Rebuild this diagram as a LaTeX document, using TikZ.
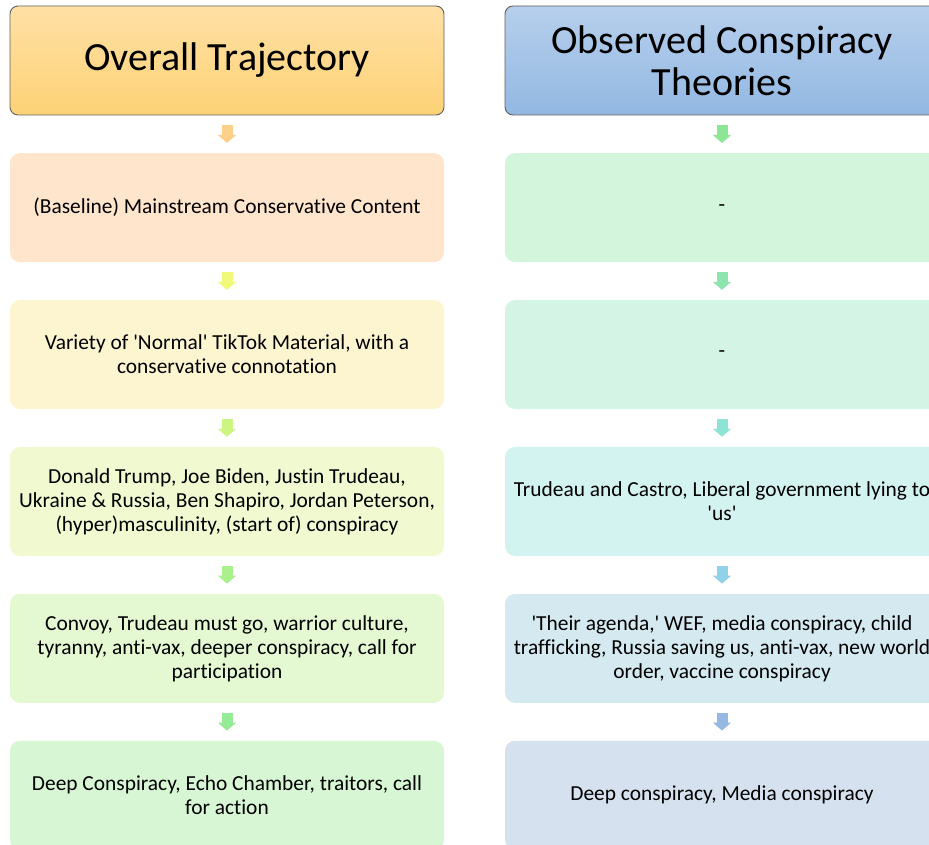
\documentclass[tikz,border=0pt]{standalone}
\usepackage{fontspec}
\setmainfont{Carlito}[Ligatures={NoCommon}]
\usepackage{xcolor}
\usepackage{tikz}
\usetikzlibrary{positioning,arrows.meta}

\definecolor{hdrline}{RGB}{95,95,95}
\definecolor{trajtop}{RGB}{255,224,165}
\definecolor{trajbot}{RGB}{253,210,118}
\definecolor{theotop}{RGB}{183,207,236}
\definecolor{theobot}{RGB}{146,184,226}
% left column fills / arrows
\definecolor{trajA}{RGB}{255,229,204}
\definecolor{trajB}{RGB}{253,245,208}
\definecolor{trajC}{RGB}{241,249,208}
\definecolor{trajD}{RGB}{228,248,210}
\definecolor{trajE}{RGB}{215,246,211}
\definecolor{tarrA}{RGB}{254,208,140}
\definecolor{tarrB}{RGB}{240,250,120}
\definecolor{tarrC}{RGB}{205,245,130}
\definecolor{tarrD}{RGB}{170,240,140}
\definecolor{tarrE}{RGB}{150,235,150}
% right column fills / arrows
\definecolor{theoA}{RGB}{211,245,220}
\definecolor{theoB}{RGB}{212,244,230}
\definecolor{theoC}{RGB}{211,243,240}
\definecolor{theoD}{RGB}{212,234,240}
\definecolor{theoE}{RGB}{213,225,238}
\definecolor{carrA}{RGB}{140,230,150}
\definecolor{carrB}{RGB}{140,228,175}
\definecolor{carrC}{RGB}{140,228,215}
\definecolor{carrD}{RGB}{145,210,232}
\definecolor{carrE}{RGB}{150,185,228}

\newcommand{\sq}{\textquotesingle}

\tikzset{
  hdr/.style={draw=hdrline, line width=0.9pt, rounded corners=8pt,
    minimum width=434pt, minimum height=109pt, align=center, inner sep=0pt,
    font=\fontsize{40}{42}\selectfont},
  card/.style={rounded corners=10pt, minimum width=434pt, minimum height=109pt,
    align=center, inner sep=0pt, font=\fontsize{21.4}{24}\selectfont},
  flow/.style={line width=11pt, shorten <=10pt, shorten >=10pt,
    -{Triangle[width=18pt,length=8pt]}},
}

\begin{document}
\begin{tikzpicture}[x=1pt,y=-1pt]
\useasboundingbox (0,0) rectangle (929,845);
\clip (0,0) rectangle (929,845);

% left column
\node[hdr, top color=trajtop, bottom color=trajbot] (traj) at (227,60.5) {Overall Trajectory};
\node[card, fill=trajA, below=37.5pt of traj] (traj1) {(Baseline) Mainstream Conservative Content};
\node[card, fill=trajB, below=37.5pt of traj1] (traj2) {Variety of \sq Normal\sq{} TikTok Material, with a\\conservative connotation};
\node[card, fill=trajC, below=37.5pt of traj2] (traj3) {Donald Trump, Joe Biden, Justin Trudeau,\\Ukraine \& Russia, Ben Shapiro, Jordan Peterson,\\(hyper)masculinity, (start of) conspiracy};
\node[card, fill=trajD, below=37.5pt of traj3] (traj4) {Convoy, Trudeau must go, warrior culture,\\tyranny, anti-vax, deeper conspiracy, call for\\participation};
\node[card, fill=trajE, below=37.5pt of traj4] (traj5) {Deep Conspiracy, Echo Chamber, traitors, call\\for action};

% right column
\node[hdr, top color=theotop, bottom color=theobot] (theo) at (722,60.5) {Observed Conspiracy\\Theories};
\node[card, fill=theoA, below=37.5pt of theo] (theo1) {-};
\node[card, fill=theoB, below=37.5pt of theo1] (theo2) {-};
\node[card, fill=theoC, below=37.5pt of theo2] (theo3) {Trudeau and Castro, Liberal government lying to\\\sq us\sq};
\node[card, fill=theoD, below=37.5pt of theo3] (theo4) {\sq Their agenda,\sq{} WEF, media conspiracy, child\\trafficking, Russia saving us, anti-vax, new world\\order, vaccine conspiracy};
\node[card, fill=theoE, below=37.5pt of theo4] (theo5) {Deep conspiracy, Media conspiracy};

% arrows
\draw[flow, tarrA] (traj) -- (traj1);
\draw[flow, tarrB] (traj1) -- (traj2);
\draw[flow, tarrC] (traj2) -- (traj3);
\draw[flow, tarrD] (traj3) -- (traj4);
\draw[flow, tarrE] (traj4) -- (traj5);
\draw[flow, carrA] (theo) -- (theo1);
\draw[flow, carrB] (theo1) -- (theo2);
\draw[flow, carrC] (theo2) -- (theo3);
\draw[flow, carrD] (theo3) -- (theo4);
\draw[flow, carrE] (theo4) -- (theo5);
\end{tikzpicture}
\end{document}
